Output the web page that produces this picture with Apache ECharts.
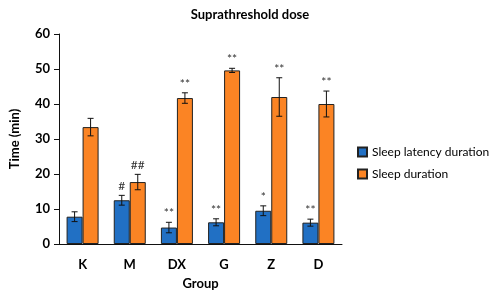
<!DOCTYPE html>
<html>
<head>
<meta charset="utf-8">
<script src="https://cdn.jsdelivr.net/npm/echarts@6/dist/echarts.min.js"></script>
<style>
  html, body { margin: 0; padding: 0; background: #fff; }
  #chart { width: 498px; height: 295px; }
</style>
</head>
<body>
<div id="chart"></div>
<script>
// values
const groups = ['K', 'M', 'DX', 'G', 'Z', 'D']
const latency = [7.8, 12.5, 4.7, 6.2, 9.5, 6.1]
const latencyErr = [1.4, 1.4, 1.5, 1.0, 1.4, 1.0]
const latencyMark = ['', '#', '**', '**', '*', '**']
const sleep = [33.4, 17.7, 41.7, 49.6, 42.0, 40.0]
const sleepErr = [2.5, 2.2, 1.5, 0.6, 5.5, 3.7]
const sleepMark = ['', '##', '**', '**', '**', '**']

const BLUE = '#2170c4'
const ORANGE = '#fb8424'
const BAR_W = 16
const font = 'Lato, "Open Sans", sans-serif'

function errSeries(vals, errs, marks, offset) {
  return {
    type: 'custom',
    z: 5,
    silent: true,
    data: vals.map((v, i) => [i, v, errs[i]]),
    renderItem(params, api) {
      const i = api.value(0)
      const v = api.value(1)
      const e = api.value(2)
      const top = api.coord([i, v + e])
      const bot = api.coord([i, v - e])
      const x = top[0] + offset
      const cap = 3
      const style = { stroke: '#111', lineWidth: 1 }
      const children = [
        { type: 'line', shape: { x1: x, y1: top[1], x2: x, y2: bot[1] }, style },
        { type: 'line', shape: { x1: x - cap, y1: top[1], x2: x + cap, y2: top[1] }, style },
        { type: 'line', shape: { x1: x - cap, y1: bot[1], x2: x + cap, y2: bot[1] }, style }
      ]
      const mark = marks[i]
      if (mark) {
        children.push({
          type: 'text',
          style: {
            text: mark, x: x, y: top[1] - 3,
            align: 'center', verticalAlign: 'bottom',
            fill: '#333', font: '12px ' + font
          }
        })
      }
      return { type: 'group', children }
    }
  }
}

const chart = echarts.init(document.getElementById('chart'))
chart.setOption({
  animation: false,
  title: {
    text: 'Suprathreshold dose',
    left: 245, top: 3, textAlign: 'center',
    textStyle: { fontFamily: font, fontSize: 13, fontWeight: 'bold', color: '#000' }
  },
  grid: { left: 49, right: 156, top: 34, bottom: 50 },
  legend: {
    orient: 'vertical',
    left: 357, top: 146,
    icon: 'rect',
    itemWidth: 9, itemHeight: 9, itemGap: 10, padding: 0,
    data: ['Sleep latency duration', 'Sleep duration'],
    textStyle: { fontFamily: font, fontSize: 12, color: '#000' }
  },
  xAxis: {
    type: 'category',
    data: groups,
    name: 'Group',
    nameLocation: 'middle',
    nameGap: 33,
    nameTextStyle: { fontFamily: font, fontSize: 13, fontWeight: 'bold', color: '#000' },
    axisLine: { lineStyle: { color: '#111' } },
    axisTick: { length: 5, lineStyle: { color: '#111' } },
    axisLabel: { fontFamily: font, fontSize: 13, fontWeight: 'bold', color: '#000', margin: 14 }
  },
  yAxis: {
    type: 'value',
    min: 0, max: 60, interval: 10,
    name: 'Time (min)',
    nameLocation: 'middle',
    nameGap: 38,
    nameTextStyle: { fontFamily: font, fontSize: 13, fontWeight: 'bold', color: '#000' },
    axisLine: { show: true, lineStyle: { color: '#111' } },
    axisTick: { show: true, length: 5, lineStyle: { color: '#111' } },
    splitLine: { show: false },
    axisLabel: { fontFamily: font, fontSize: 13, fontWeight: 'bold', color: '#000', margin: 9 }
  },
  series: [
    {
      name: 'Sleep latency duration', type: 'bar', data: latency,
      barWidth: BAR_W, barGap: '0%',
      itemStyle: { color: BLUE, borderColor: '#222', borderWidth: 1 }
    },
    {
      name: 'Sleep duration', type: 'bar', data: sleep,
      barWidth: BAR_W, barGap: '0%',
      itemStyle: { color: ORANGE, borderColor: '#222', borderWidth: 1 }
    },
    errSeries(latency, latencyErr, latencyMark, -BAR_W / 2),
    errSeries(sleep, sleepErr, sleepMark, BAR_W / 2)
  ]
})
</script>
</body>
</html>
